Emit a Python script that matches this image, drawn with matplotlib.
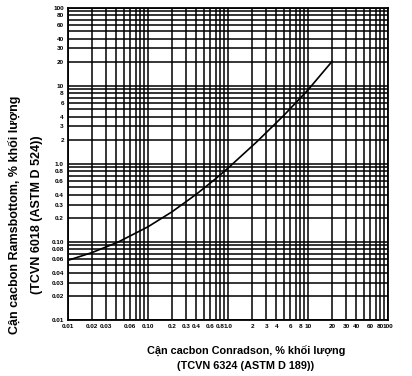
import matplotlib
matplotlib.use("Agg")
import matplotlib.pyplot as plt
from matplotlib.ticker import FixedLocator, FixedFormatter, NullLocator

# Conradson carbon residue (x) vs Ramsbottom carbon residue (y), % mass
conradson = [0.01, 0.02, 0.042, 0.1, 0.2, 0.4, 0.7, 1.0, 2.3, 5.0, 10.0, 20.0]
ramsbottom = [0.058, 0.073, 0.099, 0.156, 0.243, 0.406, 0.643, 0.88, 1.92, 4.18, 8.84, 20.5]

x_ticks = [0.01, 0.02, 0.03, 0.06, 0.1, 0.2, 0.3, 0.4, 0.6, 0.8, 1.0,
           2, 3, 4, 6, 8, 10, 20, 30, 40, 60, 80, 100]
x_labels = ["0.01", "0.02", "0.03", "0.06", "0.10", "0.2", "0.3", "0.4", "0.6",
            "0.8", "1.0", "2", "3", "4", "6", "8", "10", "20", "30", "40",
            "60", "80", "100"]
y_ticks = [0.01, 0.02, 0.03, 0.04, 0.06, 0.08, 0.1, 0.2, 0.3, 0.4, 0.6, 0.8,
           1.0, 2, 3, 4, 6, 8, 10, 20, 30, 40, 60, 80, 100]
y_labels = ["0.01", "0.02", "0.03", "0.04", "0.06", "0.08", "0.10", "0.2",
            "0.3", "0.4", "0.6", "0.8", "1.0", "2", "3", "4", "6", "8", "10",
            "20", "30", "40", "60", "80", "100"]

plt.rcParams["font.family"] = ["Liberation Sans", "DejaVu Sans"]

fig = plt.figure(figsize=(4.12, 3.76), dpi=100)
ax = fig.add_axes([0.165, 0.149, 0.777, 0.831])
ax.set_xscale("log")
ax.set_yscale("log")
ax.set_xlim(0.01, 100)
ax.set_ylim(0.01, 100)

# dense grid: every 1..9 multiple of each decade
grid = [m * 10.0 ** e for e in range(-2, 2) for m in range(1, 10)] + [100]
for g in grid:
    ax.axvline(g, color="black", lw=1.1, zorder=1)
    ax.axhline(g, color="black", lw=1.1, zorder=1)

ax.plot(conradson, ramsbottom, color="black", lw=1.2, zorder=3)

for axis, ticks, labels in [(ax.xaxis, x_ticks, x_labels),
                            (ax.yaxis, y_ticks, y_labels)]:
    axis.set_major_locator(FixedLocator(ticks))
    axis.set_major_formatter(FixedFormatter(labels))
    axis.set_minor_locator(NullLocator())
ax.tick_params(length=0, labelsize=4.6, pad=3)
for t in ax.get_xticklabels() + ax.get_yticklabels():
    t.set_fontweight("bold")
    t.set_family(["Liberation Sans Narrow", "Liberation Sans", "DejaVu Sans"])
for s in ax.spines.values():
    s.set_linewidth(1.3)

fig.text(0.597, 0.064, "Cận cacbon Conradson, % khối lượng",
         ha="center", va="center", fontsize=7.8, fontweight="bold")
fig.text(0.597, 0.027, "(TCVN 6324 (ASTM D 189))",
         ha="center", va="center", fontsize=7.8, fontweight="bold")
fig.text(0.036, 0.428, "Cận cacbon Ramsbottom, % khối lượng", rotation=90,
         ha="center", va="center", fontsize=9, fontweight="bold")
fig.text(0.09, 0.428, "(TCVN 6018 (ASTM D 524))", rotation=90,
         ha="center", va="center", fontsize=9, fontweight="bold")

fig.savefig("out.png", dpi=100)
